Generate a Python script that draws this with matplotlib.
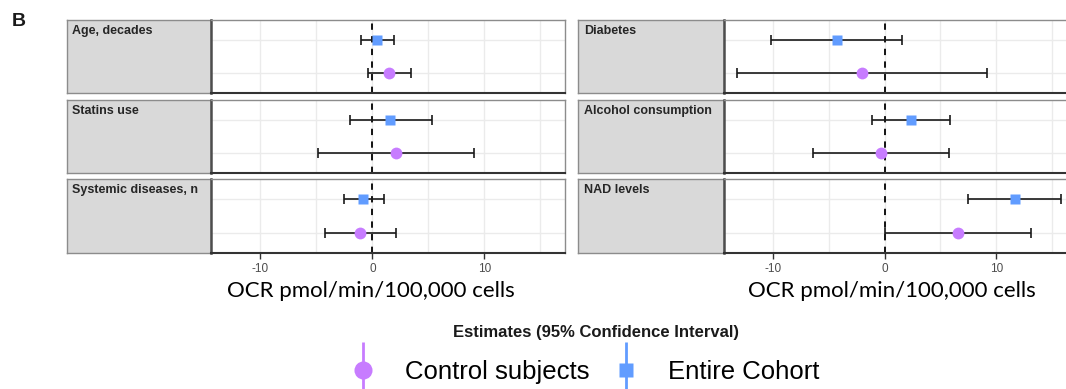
import matplotlib.pyplot as plt
from matplotlib.lines import Line2D

# estimates (two columns of facets, three rows each)
variables = ['Age, decades', 'Statins use', 'Systemic diseases, n',
             'Diabetes', 'Alcohol consumption', 'NAD levels']
cohort_est = [0.45, 1.6, -0.8, -4.3, 2.4, 11.65]
cohort_lo = [-1.0, -2.0, -2.5, -10.2, -1.15, 7.45]
cohort_hi = [1.9, 5.35, 1.0, 1.6, 5.9, 15.85]
control_est = [1.45, 2.1, -1.1, -2.0, -0.35, 6.55]
control_lo = [-0.4, -4.85, -4.2, -13.2, -6.4, 0.0]
control_hi = [3.45, 9.1, 2.15, 9.2, 5.8, 13.1]
groups = ['Control subjects', 'Entire Cohort']
xticks = [-10, 0, 10]

purple = '#C77CFF'
blue = '#619CFF'
W, H = 1066, 389

plt.rcParams['font.family'] = 'Liberation Sans'
plt.rcParams['axes.unicode_minus'] = False
fig = plt.figure(figsize=(W / 100, H / 100), dpi=100)


def box(x0, x1, y0, y1):
    return [x0 / W, 1 - y1 / H, (x1 - x0) / W, (y1 - y0) / H]


rows = [(20, 93), (100, 173), (179, 253)]
cols = [(66.5, 211, 565), (578, 724, 1076.5)]

for i, var in enumerate(variables):
    c, r = divmod(i, 3)
    sx0, px0, px1 = cols[c]
    y0, y1 = rows[r]

    # grey label strip
    sax = fig.add_axes(box(sx0, px0, y0, y1))
    sax.set_facecolor('#d9d9d9')
    sax.set_xticks([])
    sax.set_yticks([])
    for s in sax.spines.values():
        s.set_color('#8c8c8c')
        s.set_linewidth(1.0)
    sax.text(6 / (px0 - sx0), 1 - 5 / (y1 - y0), var, transform=sax.transAxes,
             ha='left', va='top', fontsize=9, fontweight='bold', color='#262626')

    ax = fig.add_axes(box(px0, px1, y0, y1))
    ax.set_xlim(-14.4, 17.2)
    ax.set_ylim(0.4, 2.6)
    ax.set_xticks(xticks)
    ax.set_xticks([-5, 5, 15], minor=True)
    ax.set_yticks([1, 2])
    ax.grid(True, which='both', color='#ebebeb', lw=1.0)
    ax.set_axisbelow(True)
    ax.tick_params(axis='y', length=0, labelleft=False)
    ax.tick_params(axis='x', which='minor', length=0)
    if r == 2:
        ax.tick_params(axis='x', length=4, width=1.0, color='#333333',
                       labelsize=8.5, labelcolor='#4d4d4d', pad=3)
    else:
        ax.tick_params(axis='x', length=0, labelbottom=False)
    for s in ['top', 'right']:
        ax.spines[s].set_color('#8c8c8c')
        ax.spines[s].set_linewidth(1.0)
    ax.spines['left'].set_color('#4d4d4d')
    ax.spines['left'].set_linewidth(1.8)
    ax.spines['bottom'].set_color('#333333')
    ax.spines['bottom'].set_linewidth(1.5)

    ax.axvline(0, color='black', lw=1.3, ls=(0, (3.5, 3.5)), zorder=2)

    ax.errorbar(control_est[i], 1,
                xerr=[[control_est[i] - control_lo[i]], [control_hi[i] - control_est[i]]],
                fmt='none', ecolor='#1a1a1a', elinewidth=1.2, capsize=3.5, capthick=1.2,
                zorder=3)
    ax.errorbar(cohort_est[i], 2,
                xerr=[[cohort_est[i] - cohort_lo[i]], [cohort_hi[i] - cohort_est[i]]],
                fmt='none', ecolor='#1a1a1a', elinewidth=1.2, capsize=3.5, capthick=1.2,
                zorder=3)
    ax.plot(control_est[i], 1, 'o', color=purple, ms=8.5, mec='none', zorder=4)
    ax.plot(cohort_est[i], 2, 's', color=blue, ms=7, mec='none', zorder=4)

fig.text(12 / W, 1 - 22 / H, 'B', fontsize=14, fontweight='bold',
         ha='left', va='center', color='#1a1a1a')
fig.text(371 / W, 1 - 291 / H, 'OCR pmol/min/100,000 cells', family='Lato',
         fontsize=16, ha='center', va='center')
fig.text(892 / W, 1 - 291 / H, 'OCR pmol/min/100,000 cells', family='Lato',
         fontsize=16, ha='center', va='center')
fig.text(596 / W, 1 - 333 / H, 'Estimates (95% Confidence Interval)',
         fontsize=12, fontweight='bold', ha='center', va='center', color='#1a1a1a')

handles = [
    (Line2D([], [], marker='|', ms=40, mew=2, color=purple, ls='none'),
     Line2D([], [], marker='o', ms=13, color=purple, mec='none', ls='none')),
    (Line2D([], [], marker='|', ms=40, mew=2, color=blue, ls='none'),
     Line2D([], [], marker='s', ms=10, color=blue, mec='none', ls='none')),
]
fig.legend(handles, groups, loc='center', bbox_to_anchor=(585 / W, 1 - 372 / H),
           ncol=2, frameon=False, fontsize=18.5, handlelength=1.0,
           handletextpad=1.15, columnspacing=0.9)

fig.savefig('out.png', dpi=100)
